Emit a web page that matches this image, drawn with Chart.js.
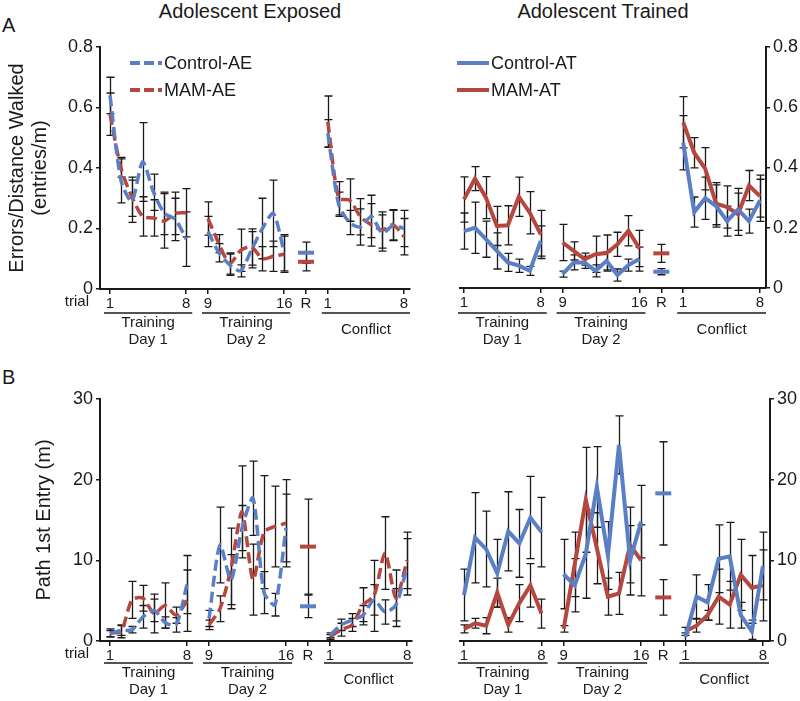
<!DOCTYPE html>
<html>
<head>
<meta charset="utf-8">
<title>Errors and path to first entry</title>
<script src="https://cdn.jsdelivr.net/npm/chart.js@4.4.1/dist/chart.umd.min.js"></script>
<style>
  body { margin: 0; background: #fff; }
  #wrap { position: relative; width: 800px; height: 701px; font-family: 'Liberation Sans', Arial, sans-serif; color: #1a1a1a; }
  .panel { position: absolute; }
  .title { position: absolute; font-size: 20px; transform: translateX(-50%); white-space: nowrap; }
  .letter { position: absolute; font-size: 20px; }
</style>
</head>
<body>
<div id="wrap">
  <div class="letter" style="left:2px;top:14px">A</div>
  <div class="letter" style="left:2px;top:366px">B</div>
  <div class="title" style="left:250px;top:0">Adolescent Exposed</div>
  <div class="title" style="left:603px;top:0">Adolescent Trained</div>
  <canvas class="panel" id="errAE" width="420" height="350" style="left:0;top:0"></canvas>
  <canvas class="panel" id="errAT" width="380" height="350" style="left:420px;top:0"></canvas>
  <canvas class="panel" id="pathAE" width="420" height="351" style="left:0;top:350px"></canvas>
  <canvas class="panel" id="pathAT" width="380" height="351" style="left:420px;top:350px"></canvas>
</div>
<script>
// each series: 8 trials day 1, 8 trials day 2, R, 8 conflict trials
const errCtrlAE    = [0.64, 0.36, 0.29, 0.42, 0.32, 0.25, 0.23, 0.165, 0.19, 0.12, 0.08, 0.06, 0.13, 0.20, 0.25, 0.12, 0.12, 0.515, 0.28, 0.22, 0.205, 0.24, 0.185, 0.21, 0.20];
const errCtrlAESem = [0.06, 0.075, 0.07, 0.13, 0.06, 0.07, 0.07, 0.09, 0.05, 0.03, 0.035, 0.02, 0.06, 0.10, 0.11, 0.06, 0.035, 0.045, 0.04, 0.04, 0.06, 0.07, 0.06, 0.05, 0.06];
const errMamAE     = [0.578, 0.40, 0.305, 0.24, 0.235, 0.225, 0.25, 0.252, 0.233, 0.15, 0.084, 0.128, 0.139, 0.10, 0.108, 0.115, 0.09, 0.553, 0.30, 0.294, 0.239, 0.212, 0.195, 0.212, 0.173];
const errMamAESem  = [0.07, 0.03, 0.065, 0.065, 0.06, 0.09, 0.07, 0.08, 0.055, 0.03, 0.035, 0.07, 0.06, 0.04, 0.05, 0.06, 0.03, 0.085, 0.055, 0.07, 0.06, 0.07, 0.06, 0.05, 0.06];

const errCtrlAT    = [0.189, 0.20, 0.162, 0.123, 0.085, 0.074, 0.057, 0.156, 0.046, 0.085, 0.085, 0.057, 0.09, 0.043, 0.076, 0.096, 0.054, 0.482, 0.252, 0.298, 0.272, 0.222, 0.261, 0.222, 0.291];
const errCtrlATSem = [0.06, 0.085, 0.06, 0.06, 0.03, 0.022, 0.015, 0.05, 0.01, 0.025, 0.02, 0.02, 0.03, 0.02, 0.02, 0.04, 0.01, 0.09, 0.05, 0.07, 0.07, 0.05, 0.07, 0.04, 0.07];
const errMamAT     = [0.294, 0.363, 0.30, 0.206, 0.208, 0.303, 0.25, 0.178, 0.151, 0.123, 0.096, 0.112, 0.116, 0.145, 0.19, 0.131, 0.115, 0.55, 0.449, 0.396, 0.28, 0.269, 0.245, 0.34, 0.305];
const errMamATSem  = [0.075, 0.04, 0.07, 0.065, 0.065, 0.065, 0.07, 0.08, 0.06, 0.03, 0.02, 0.06, 0.06, 0.04, 0.05, 0.06, 0.03, 0.085, 0.05, 0.07, 0.07, 0.07, 0.07, 0.05, 0.07];

const pathCtrlAE    = [0.9, 1.3, 1.4, 3.0, 3.8, 2.3, 2.0, 7.0, 2.8, 11.9, 7.6, 14.0, 17.7, 6.0, 4.5, 14.0, 4.3, 0.7, 2.0, 2.6, 3.2, 5.1, 3.6, 4.5, 9.2];
const pathCtrlAESem = [0.4, 0.6, 0.4, 1.4, 1.4, 0.7, 0.9, 3.6, 1.0, 4.7, 3.1, 2.8, 4.6, 2.6, 1.4, 4.2, 1.4, 0.3, 0.7, 0.8, 1.2, 1.9, 1.5, 2.0, 3.5];
const pathMamAE     = [1.0, 1.2, 5.1, 5.3, 3.4, 4.4, 3.2, 5.0, 2.0, 4.0, 9.0, 16.0, 7.6, 13.5, 14.2, 14.6, 11.7, 0.5, 1.4, 2.0, 4.5, 5.6, 10.9, 5.3, 10.0];
const pathMamAESem  = [0.5, 0.8, 2.3, 1.6, 2.4, 2.8, 1.0, 3.8, 0.6, 1.6, 5.0, 5.7, 4.4, 7.0, 5.0, 5.4, 5.9, 0.3, 0.8, 0.8, 2.1, 4.4, 4.5, 3.5, 3.5];

const pathCtrlAT    = [5.7, 12.8, 11.4, 8.4, 13.6, 12.1, 15.3, 13.5, 8.3, 6.9, 10.8, 19.1, 10.6, 24.3, 10.0, 14.8, 18.3, 0.5, 5.5, 4.8, 10.2, 10.5, 3.2, 1.2, 9.3];
const pathCtrlATSem = [3.2, 5.6, 4.7, 4.2, 4.9, 4.2, 5.1, 4.3, 4.3, 3.3, 5.5, 5.0, 4.2, 3.6, 4.3, 4.5, 6.4, 0.5, 2.7, 2.2, 4.2, 4.2, 1.6, 1.0, 4.2];
const pathMamAT     = [1.5, 2.2, 1.9, 6.0, 2.0, 4.7, 6.9, 3.4, 1.5, 9.5, 17.5, 11.5, 5.5, 5.9, 11.9, 10.0, 5.4, 1.2, 1.9, 3.2, 5.5, 4.5, 8.2, 6.6, 6.9];
const pathMamATSem  = [0.5, 0.6, 1.0, 1.8, 0.9, 2.3, 2.7, 1.8, 0.4, 4.0, 6.5, 4.4, 2.3, 2.6, 4.7, 4.4, 2.2, 0.5, 0.8, 0.6, 3.4, 2.9, 4.4, 4.0, 4.4];

const tickText = ['1', '8', '9', '16', 'R', '1', '8'];
const groupText = [['Training', 'Day 1'], ['Training', 'Day 2'], ['Conflict']];

const BLUE = '#5a7fc5';
const RED = '#b5473f';
const INK = '#1a1a1a';
Chart.defaults.font.family = "'Liberation Sans', Arial, sans-serif";
Chart.defaults.color = INK;

// x layout: day 1 at 1-8, day 2 at 10-17, R at 19, conflict at 21-28
const tickPos = [1, 8, 10, 17, 19, 21, 28];
const groupSpans = [[1, 8], [10, 17], [21, 28]];
const R_POS = 19;

function posOf(i) {
    if (i < 8) return i + 1;
    if (i < 16) return i + 2;
    if (i === 16) return R_POS;
    return i + 4;
}

function buildSeries(values, sem) {
    const pts = [], errs = [];
    values.forEach((v, i) => {
        if (i === 8 || i === 16 || i === 17) {
            pts.push({x: posOf(i) - 1, y: null});
            errs.push(null);
        }
        pts.push({x: posOf(i), y: v});
        errs.push(sem[i]);
    });
    return {pts, errs};
}

function makeDataset(label, values, sem, color, dashed, tension) {
    const s = buildSeries(values, sem);
    return {
        label: label,
        data: s.pts,
        sem: s.errs,
        borderColor: color,
        backgroundColor: color,
        borderWidth: dashed ? 3.5 : 4,
        borderDash: dashed ? [11, 5] : [],
        tension: tension,
        spanGaps: false,
        pointStyle: 'line',
        pointBorderColor: color,
        pointBorderWidth: 4,
        pointRadius: ctx => (ctx.raw && ctx.raw.x === R_POS ? 8 : 0),
        pointHoverRadius: 0
    };
}

const errorBars = {
    id: 'errorBars',
    beforeDatasetsDraw(chart) {
        const {ctx, scales: {x, y}} = chart;
        ctx.save();
        ctx.strokeStyle = INK;
        ctx.lineWidth = 1.3;
        chart.data.datasets.forEach(ds => {
            ds.data.forEach((p, i) => {
                const e = ds.sem[i];
                if (p.y == null || e == null) return;
                const px = Math.round(x.getPixelForValue(p.x)) + 0.5;
                const top = y.getPixelForValue(p.y + e);
                const bot = y.getPixelForValue(p.y - e);
                ctx.beginPath();
                ctx.moveTo(px, top); ctx.lineTo(px, bot);
                ctx.moveTo(px - 4, top); ctx.lineTo(px + 4, top);
                ctx.moveTo(px - 4, bot); ctx.lineTo(px + 4, bot);
                ctx.stroke();
            });
        });
        ctx.restore();
    }
};

// group underlines, group names, "trial" label and the key
const panelText = {
    id: 'panelText',
    afterDraw(chart, args, opts) {
        const {ctx, chartArea, scales: {x}} = chart;
        const base = chartArea.bottom;
        ctx.save();
        ctx.fillStyle = INK;
        ctx.strokeStyle = INK;
        ctx.font = "15px 'Liberation Sans', Arial, sans-serif";
        ctx.textBaseline = 'middle';
        if (opts.trial) {
            ctx.textAlign = 'right';
            ctx.fillText('trial', chartArea.left - 11, base + 13);
        }
        ctx.textAlign = 'center';
        ctx.lineWidth = 1.5;
        groupSpans.forEach((span, g) => {
            const x0 = x.getPixelForValue(span[0] - 0.55);
            const x1 = x.getPixelForValue(span[1] + 0.55);
            const ly = base + opts.under;
            ctx.beginPath();
            ctx.moveTo(x0, ly); ctx.lineTo(x1, ly);
            ctx.stroke();
            const lines = groupText[g];
            const cx = (x0 + x1) / 2;
            if (lines.length === 1) {
                ctx.fillText(lines[0], cx, ly + 17);
            } else {
                ctx.fillText(lines[0], cx, ly + 10);
                ctx.fillText(lines[1], cx, ly + 27);
            }
        });
        if (opts.key) {
            ctx.font = "18px 'Liberation Sans', Arial, sans-serif";
            ctx.textAlign = 'left';
            chart.data.datasets.forEach((ds, i) => {
                const ky = opts.key.y + i * 27;
                ctx.strokeStyle = ds.borderColor;
                ctx.lineWidth = 4;
                ctx.setLineDash(ds.borderDash.length ? [10, 4] : []);
                ctx.beginPath();
                ctx.moveTo(opts.key.x, ky); ctx.lineTo(opts.key.x + 32, ky);
                ctx.stroke();
                ctx.setLineDash([]);
                ctx.fillStyle = INK;
                ctx.fillText(ds.label, opts.key.x + 34, ky + 1);
            });
        }
        ctx.restore();
    }
};

function makePanel(id, cfg) {
    const yAxis = {
        position: cfg.yPos,
        min: 0,
        max: cfg.yMax,
        ticks: {stepSize: cfg.yStep, font: {size: 18}, padding: 3, color: INK},
        grid: {drawOnChartArea: false, drawTicks: true, tickLength: 4, color: INK, lineWidth: 1.5},
        border: {display: true, color: INK, width: 2},
        afterFit: s => { s.width = cfg.yWidth; }
    };
    if (cfg.yTitle) {
        yAxis.title = {
            display: true,
            text: cfg.yTitle,
            font: {size: 20, lineHeight: 1.15},
            color: INK,
            padding: {top: cfg.titlePad, bottom: 0}
        };
    }
    new Chart(document.getElementById(id), {
        type: 'line',
        data: {datasets: cfg.datasets},
        options: {
            responsive: false,
            animation: false,
            layout: {padding: cfg.padding},
            plugins: {
                legend: {display: false},
                tooltip: {enabled: false},
                panelText: {trial: cfg.trial, under: cfg.under, key: cfg.key}
            },
            scales: {
                x: {
                    type: 'linear',
                    min: cfg.xMin,
                    max: cfg.xMax,
                    afterBuildTicks: s => { s.ticks = tickPos.map(v => ({value: v})); },
                    ticks: {
                        autoSkip: false,
                        maxRotation: 0,
                        padding: 1,
                        font: {size: 15},
                        color: INK,
                        callback: v => tickText[tickPos.indexOf(v)]
                    },
                    grid: {drawOnChartArea: false, drawTicks: true, tickLength: 5, color: INK, lineWidth: 1.5},
                    border: {display: true, color: INK, width: 2},
                    afterFit: s => { s.height = cfg.xHeight; }
                },
                y: yAxis
            }
        },
        plugins: [errorBars, panelText]
    });
}

makePanel('errAE', {
    datasets: [
        makeDataset('Control-AE', errCtrlAE, errCtrlAESem, BLUE, true, 0.25),
        makeDataset('MAM-AE', errMamAE, errMamAESem, RED, true, 0.25)
    ],
    yPos: 'left', yMax: 0.8, yStep: 0.2, yWidth: 100,
    yTitle: ['Errors/Distance Walked', '(entries/m)'], titlePad: 6,
    padding: {top: 47, right: 10, left: 0, bottom: 0},
    xMin: 0.08, xMax: 28.55, xHeight: 61,
    trial: true, under: 24, key: {x: 130, y: 63}
});

makePanel('errAT', {
    datasets: [
        makeDataset('Control-AT', errCtrlAT, errCtrlATSem, BLUE, false, 0),
        makeDataset('MAM-AT', errMamAT, errMamATSem, RED, false, 0)
    ],
    yPos: 'right', yMax: 0.8, yStep: 0.2, yWidth: 34,
    padding: {top: 47, right: 0, left: 40, bottom: 0},
    xMin: 0.635, xMax: 28.55, xHeight: 62,
    trial: false, under: 25, key: {x: 37, y: 63}
});

makePanel('pathAE', {
    datasets: [
        makeDataset('Control-AE', pathCtrlAE, pathCtrlAESem, BLUE, true, 0.25),
        makeDataset('MAM-AE', pathMamAE, pathMamAESem, RED, true, 0.25)
    ],
    yPos: 'left', yMax: 30, yStep: 10, yWidth: 100,
    yTitle: 'Path 1st Entry (m)', titlePad: 33,
    padding: {top: 49, right: 8, left: 0, bottom: 0},
    xMin: 0.09, xMax: 28.45, xHeight: 60,
    trial: true, under: 22, key: null
});

makePanel('pathAT', {
    datasets: [
        makeDataset('Control-AT', pathCtrlAT, pathCtrlATSem, BLUE, false, 0),
        makeDataset('MAM-AT', pathMamAT, pathMamATSem, RED, false, 0)
    ],
    yPos: 'right', yMax: 30, yStep: 10, yWidth: 30,
    padding: {top: 49, right: 0, left: 40, bottom: 0},
    xMin: 0.64, xMax: 28.64, xHeight: 60,
    trial: false, under: 22, key: null
});
</script>
</body>
</html>
